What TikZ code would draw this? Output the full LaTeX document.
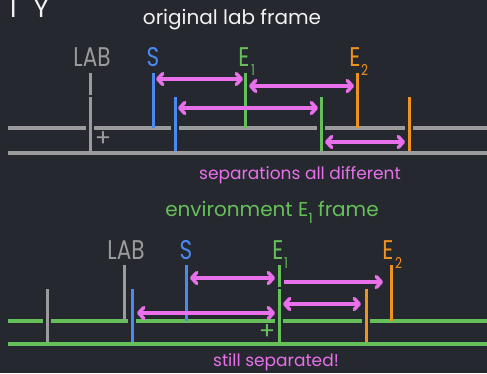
\documentclass[tikz,border=0pt]{standalone}
\usepackage{fontspec}
\setmainfont{Poppins}
\newfontfamily\lblfont[FakeStretch=0.8]{Poppins}
\usetikzlibrary{arrows.meta}
\definecolor{bgc}{HTML}{262830}
\definecolor{grc}{HTML}{9B9B9B}
\definecolor{blc}{HTML}{4A8AF0}
\definecolor{gnc}{HTML}{66C05A}
\definecolor{ogc}{HTML}{F0921E}
\definecolor{pkc}{HTML}{E870EA}
\definecolor{txc}{HTML}{F2F2F2}
\begin{document}
\begin{tikzpicture}[x=1pt,y=-1pt,
  hline/.style={line width=3.5pt},
  tickline/.style={line width=3pt},
  gapper/.style={line width=7.5pt, draw=bgc},
  barb/.tip={Straight Barb[length=5pt,width=11pt,line cap=round,line join=round]},
  sep/.style={draw=pkc, line width=3.5pt, barb-barb},
  sepr/.style={draw=pkc, line width=3.5pt, -barb},
  title/.style={font=\fontsize{20}{20}\selectfont, inner sep=0pt},
  note/.style={font=\fontsize{17}{17}\selectfont, inner sep=0pt},
  lbl/.style={font=\lblfont\fontsize{27}{27}\selectfont, inner sep=0pt},
  subl/.style={anchor=north west, inner sep=0pt, font=\lblfont\fontsize{15}{15}\selectfont},
  plus/.style={font=\fontsize{24}{24}\selectfont, inner sep=0pt}
]
\useasboundingbox (0,0) rectangle (487,373);
\fill[bgc] (0,0) rectangle (487,373);

\node[anchor=base west, text=txc, font=\fontsize{26}{26}\selectfont, inner sep=0pt] (cut) at (10,17) {I\hspace{17pt}Y};

% ================= top panel =================
\node[title, text=txc] (t1) at (232,20) {original lab frame};

\coordinate (tUa) at (8,128);   \coordinate (tUb) at (487,128);
\coordinate (tLa) at (8,153);   \coordinate (tLb) at (487,153);
\draw[hline, grc] (tUa) -- (tUb);

% upper ticks
\coordinate (LABu1) at (90,73);  \coordinate (LABu2) at (90,128);
\coordinate (Su1) at (153,73);   \coordinate (Su2) at (153,128);
\coordinate (E1u1) at (245,73);  \coordinate (E1u2) at (245,128);
\coordinate (E2u1) at (357,73);  \coordinate (E2u2) at (357,128);
\draw[tickline, grc] (LABu1) -- (LABu2);
\draw[tickline, blc] (Su1) -- (Su2);
\draw[tickline, gnc] (E1u1) -- (E1u2);
\draw[tickline, ogc] (E2u1) -- (E2u2);

% lower ticks
\coordinate (LABl0) at (90,95);  \coordinate (LABl1) at (90,97);  \coordinate (LABl2) at (90,153);
\coordinate (Sl0) at (175,95);   \coordinate (Sl1) at (175,97);   \coordinate (Sl2) at (175,153);
\coordinate (E1l0) at (321,95);  \coordinate (E1l1) at (321,97);  \coordinate (E1l2) at (321,153);
\coordinate (E2l0) at (409,95);  \coordinate (E2l1) at (409,97);  \coordinate (E2l2) at (409,153);
\draw[gapper] (LABl0) -- (LABl2);
\draw[gapper] (Sl0) -- (Sl2);
\draw[gapper] (E1l0) -- (E1l2);
\draw[gapper] (E2l0) -- (E2l2);
\draw[tickline, grc] (LABl1) -- (LABl2);
\draw[tickline, blc] (Sl1) -- (Sl2);
\draw[tickline, gnc] (E1l1) -- (E1l2);
\draw[tickline, ogc] (E2l1) -- (E2l2);

\draw[hline, grc] (tLa) -- (tLb);

% arrows
\coordinate (a1s) at (156,79);  \coordinate (a1e) at (243,79);
\coordinate (a2s) at (249,86);  \coordinate (a2e) at (354,86);
\coordinate (a3s) at (178,108); \coordinate (a3e) at (318,108);
\coordinate (a4s) at (325,142); \coordinate (a4e) at (405,142);
\draw[sep] (a1s) -- (a1e);
\draw[sep] (a2s) -- (a2e);
\draw[sep] (a3s) -- (a3e);
\draw[sep] (a4s) -- (a4e);

% labels
\node[lbl, text=grc] (labT) at (92,57) {LAB};
\node[lbl, text=blc] (sT) at (153,57) {S};
\node[lbl, text=gnc] (e1T) at (244,57) {E};
\node[subl, text=gnc] (e1Ts) at (251,64) {1};
\node[lbl, text=ogc] (e2T) at (355,57) {E};
\node[subl, text=ogc] (e2Ts) at (361,64) {2};
\node[plus, text=grc] (plusT) at (103,139) {+};

\node[note, text=pkc] (sepT) at (300,175) {separations all different};

% ================= bottom panel =================
\node[title, text=gnc] (t2) at (272,212) {environment E\raisebox{-7pt}{\fontsize{14}{14}\selectfont 1} frame};

\coordinate (bUa) at (8,321);   \coordinate (bUb) at (487,321);
\coordinate (bLa) at (8,344);   \coordinate (bLb) at (487,344);
\draw[hline, gnc] (bUa) -- (bUb);

\coordinate (LABu1b) at (124,265); \coordinate (LABu2b) at (124,321);
\coordinate (Su1b) at (186,265);   \coordinate (Su2b) at (186,321);
\coordinate (E1u1b) at (279,265);  \coordinate (E1u2b) at (279,321);
\coordinate (E2u1b) at (391,265);  \coordinate (E2u2b) at (391,321);
\draw[tickline, grc] (LABu1b) -- (LABu2b);
\draw[tickline, blc] (Su1b) -- (Su2b);
\draw[tickline, gnc] (E1u1b) -- (E1u2b);
\draw[tickline, ogc] (E2u1b) -- (E2u2b);

\coordinate (LABl0b) at (47,287);  \coordinate (LABl1b) at (47,289);  \coordinate (LABl2b) at (47,344);
\coordinate (Sl0b) at (132,287);   \coordinate (Sl1b) at (132,289);   \coordinate (Sl2b) at (132,344);
\coordinate (E1l0b) at (279,287);  \coordinate (E1l1b) at (279,289);  \coordinate (E1l2b) at (279,344);
\coordinate (E2l0b) at (366,287);  \coordinate (E2l1b) at (366,289);  \coordinate (E2l2b) at (366,344);
\draw[gapper] (LABl0b) -- (LABl2b);
\draw[gapper] (Sl0b) -- (Sl2b);
\draw[gapper] (E1l0b) -- (E1l2b);
\draw[gapper] (E2l0b) -- (E2l2b);
\draw[tickline, grc] (LABl1b) -- (LABl2b);
\draw[tickline, blc] (Sl1b) -- (Sl2b);
\draw[tickline, gnc] (E1l1b) -- (E1l2b);
\draw[tickline, ogc] (E2l1b) -- (E2l2b);

\draw[hline, gnc] (bLa) -- (bLb);

\coordinate (b1s) at (190,278); \coordinate (b1e) at (275,278);
\coordinate (b2s) at (284,282); \coordinate (b2e) at (383,282);
\coordinate (b3s) at (283,304); \coordinate (b3e) at (361,304);
\coordinate (b4s) at (137,313); \coordinate (b4e) at (275,313);
\draw[sep] (b1s) -- (b1e);
\draw[sepr] (b2s) -- (b2e);
\draw[sep] (b3s) -- (b3e);
\draw[sep] (b4s) -- (b4e);

\node[lbl, text=grc] (labB) at (126,250) {LAB};
\node[lbl, text=blc] (sB) at (186,250) {S};
\node[lbl, text=gnc] (e1B) at (278,250) {E};
\node[subl, text=gnc] (e1Bs) at (284,257) {1};
\node[lbl, text=ogc] (e2B) at (388,250) {E};
\node[subl, text=ogc] (e2Bs) at (395,257) {2};
\node[plus, text=gnc] (plusB) at (267,332) {+};

\node[note, text=pkc] (stillB) at (276,362) {still separated!};
\end{tikzpicture}
\end{document}
